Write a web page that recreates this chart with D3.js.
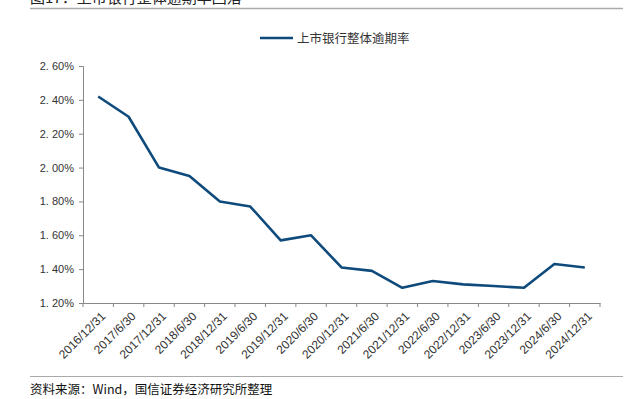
<!DOCTYPE html>
<html>
<head>
<meta charset="utf-8">
<script src="https://cdn.jsdelivr.net/npm/d3@7"></script>
<style>
  body { margin: 0; background: #fff; }
  svg { display: block; font-family: "Liberation Sans", "Noto Sans CJK SC", sans-serif; }
</style>
</head>
<body>
<div id="chart"></div>
<script>
// data
var dates = ["2016/12/31", "2017/6/30", "2017/12/31", "2018/6/30", "2018/12/31",
  "2019/6/30", "2019/12/31", "2020/6/30", "2020/12/31", "2021/6/30", "2021/12/31",
  "2022/6/30", "2022/12/31", "2023/6/30", "2023/12/31", "2024/6/30", "2024/12/31"];
var overdueRate = [2.42, 2.30, 2.00, 1.95, 1.80, 1.77, 1.57, 1.60, 1.41, 1.39, 1.29,
  1.33, 1.31, 1.30, 1.29, 1.43, 1.41];
var yTicks = [1.2, 1.4, 1.6, 1.8, 2.0, 2.2, 2.4, 2.6];
var seriesName = "上市银行整体逾期率";
var title = "图17：上市银行整体逾期率回落";
var source = "资料来源：Wind，国信证券经济研究所整理";

var W = 626, H = 399;
var margin = { top: 66, right: 26, bottom: 96, left: 83 },
    width = W - margin.left - margin.right,
    height = H - margin.top - margin.bottom;

var svg = d3.select("#chart").append("svg")
    .attr("width", W)
    .attr("height", H);

// title (cut off at top, as in the source image) and rules
svg.append("text")
    .attr("x", 30).attr("y", 3)
    .attr("font-size", 15)
    .attr("fill", "#222")
    .attr("font-family", "Noto Sans CJK SC")
    .text(title);
svg.append("line")
    .attr("x1", 30).attr("x2", 623).attr("y1", 8.5).attr("y2", 8.5)
    .attr("stroke", "#aaa").attr("stroke-width", 1.5);
svg.append("line")
    .attr("x1", 30).attr("x2", 623).attr("y1", 376.5).attr("y2", 376.5)
    .attr("stroke", "#aaa").attr("stroke-width", 1.2);
svg.append("text")
    .attr("x", 30).attr("y", 394)
    .attr("font-size", 12.5)
    .attr("fill", "#111")
    .attr("font-family", "Noto Sans CJK SC")
    .text(source);

var g = svg.append("g")
    .attr("transform", "translate(" + margin.left + "," + margin.top + ")");

var x = d3.scaleBand().domain(dates).range([0, width]);
var y = d3.scaleLinear().domain([1.2, 2.6]).range([height, 0]);

var yAxis = g.append("g")
    .call(d3.axisLeft(y).tickValues(yTicks).tickSize(4).tickPadding(5)
      .tickFormat(function (d) { return d3.format(".2f")(d).replace(".", ". ") + "%"; }));

var xAxis = g.append("g")
    .attr("transform", "translate(0," + height + ")")
    .call(d3.axisBottom(x).tickSize(0).tickPadding(0));

// ticks at band edges
var edges = dates.map(function (d) { return x(d); }).concat([width]);
xAxis.selectAll(".edge").data(edges).enter().append("line")
    .attr("class", "edge")
    .attr("x1", function (d) { return d; }).attr("x2", function (d) { return d; })
    .attr("y1", 0).attr("y2", 4)
    .attr("stroke", "#888");

xAxis.selectAll(".tick text")
    .attr("text-anchor", "end")
    .attr("transform", "translate(5,11) rotate(-45)")
    .attr("dy", "0.35em");

[yAxis, xAxis].forEach(function (a) {
  a.select(".domain").attr("stroke", "#888");
  a.selectAll(".tick line").attr("stroke", "#888");
  a.selectAll(".tick text").attr("fill", "#333");
});
yAxis.selectAll(".tick text").attr("font-size", 11);
xAxis.selectAll(".tick text").attr("font-size", 12);

var line = d3.line()
    .x(function (d, i) { return x(dates[i]) + x.bandwidth() / 2; })
    .y(function (d) { return y(d); });

g.append("path")
    .datum(overdueRate)
    .attr("fill", "none")
    .attr("stroke", "#0e4a7b")
    .attr("stroke-width", 2.6)
    .attr("stroke-linejoin", "round")
    .attr("d", line);

// legend
var lg = svg.append("g").attr("transform", "translate(260,38)");
lg.append("line").attr("x1", 0).attr("x2", 33).attr("y1", 0).attr("y2", 0)
    .attr("stroke", "#0e4a7b").attr("stroke-width", 2.6);
lg.append("text").attr("x", 37).attr("y", 4.5)
    .attr("font-size", 12.5).attr("fill", "#333")
    .attr("font-family", "Noto Sans CJK SC")
    .text(seriesName);
</script>
</body>
</html>
